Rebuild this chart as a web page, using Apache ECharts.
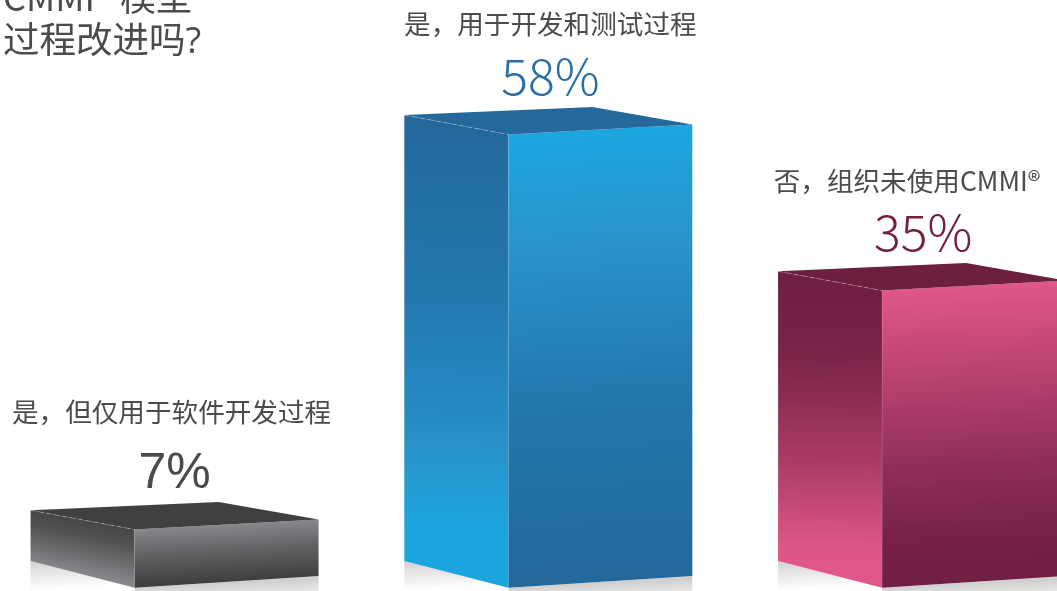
<!DOCTYPE html>
<html>
<head>
<meta charset="utf-8">
<style>html,body{margin:0;padding:0;background:#fff;overflow:hidden}#c{width:1057px;height:591px}</style>
<script src="https://cdn.jsdelivr.net/npm/echarts@6/dist/echarts.min.js"></script>
</head>
<body>
<div id="c"></div>
<script>
// ---- data ----
const categories = ['是，但仅用于软件开发过程', '是，用于开发和测试过程', '否，组织未使用CMMI®'];
const percentLabels = [7, 58, 35];
// The artwork is not to scale: the 58% column is drawn only as tall as about 53.4 on the common scale.
const drawnHeights = [6.85, 53.4, 35];
const titleLines = ['CMMI® 模型', '过程改进吗?'];

// ---- layout & styles ----
const CJK = '"Noto Sans CJK SC","Noto Sans",sans-serif';
const layout = {
  leftDx: -104, rightDx: 184, backDx: 84,
  topLeftDy: -19.3, topRightDy: -10, topBackDy: -27.5,
  baseLeftDy: -26.7, baseRightDy: -11.7
};
const labelPlace = [
  {nameDx: 37, nameDy: -118, pctDx: 40, pctDy: -55.5},
  {nameDx: 42, nameDy: -110.5, pctDx: 42, pctDy: -58},
  {nameDx: 25, nameDy: -110, pctDx: 41, pctDy: -59}
];
const titlePlace = [
  {top: -21, font: '400 36px "Noto Sans CJK SC",sans-serif'},
  {top: 24.5, font: '400 36.5px "Open Sans","Noto Sans CJK SC",sans-serif'}
];
const looks = [
  {top: '#3f403f', pct: '#4a4a4a', pctFont: '"Liberation Sans",sans-serif', pctWeight: 'normal', leftSlope: 0.2,
   left: [[0, '#3d3e3e'], [0.4, '#525253'], [1, '#8b8c90']],
   right: [[0, '#88888c'], [0.45, '#626265'], [1, '#3c3d3d']]},
  {top: '#25689c', pct: '#2a6ea3', pctFont: CJK, pctWeight: 300, leftSlope: 0.02,
   left: [[0, '#24689b'], [0.35, '#2277ac'], [0.65, '#268cc4'], [0.68, '#2a90c8'], [0.88, '#1ca6de'], [1, '#1ca6de']],
   right: [[0, '#1ca7e0'], [0.25, '#2a93cb'], [0.6, '#2277ac'], [1, '#24689b']]},
  {top: '#6c1f3f', pct: '#74203f', pctFont: CJK, pctWeight: 300, leftSlope: 0.02,
   left: [[0, '#6e1f42'], [0.25, '#7a2448'], [0.6, '#ab3c67'], [0.88, '#df578a'], [1, '#e0578a']],
   right: [[0, '#e0578a'], [0.3, '#b84270'], [0.6, '#8f2f59'], [0.85, '#762145'], [1, '#701f42']]}
];

function slantGrad(x, yTop, yBot, s, stops) {
  // gradient whose iso-lines follow the perspective slope s of the face
  const h = yBot - yTop, d = 1 + s * s;
  const sts = stops.map(p => ({offset: p[0], color: p[1]}));
  return new echarts.graphic.LinearGradient(x, yTop, x - s * h / d, yTop + h / d, sts, true);
}

function renderBar(params, api) {
  const i = params.dataIndex;
  const L = layout, look = looks[i], place = labelPlace[i];
  const base = api.coord([api.value(0), 0]);
  const top = api.coord([api.value(0), api.value(1)]);
  const x = base[0], by = base[1], ty = top[1];
  const xl = x + L.leftDx, xr = x + L.rightDx;
  const poly = (pts, fill, z2) => ({type: 'polygon', shape: {points: pts}, style: {fill}, z2: z2 || 1});
  const leftTopY = ty - 10;
  const children = [
    // floor reflection
    poly([[xl, by + L.baseLeftDy], [x, by], [x, by + 30], [xl, by + 30]],
      new echarts.graphic.LinearGradient(xl, by + L.baseLeftDy, xl + 2, by + L.baseLeftDy + 30,
        [{offset: 0, color: '#d2d2d2'}, {offset: 1, color: '#ffffff'}], true), 0),
    poly([[x, by], [xr, by + L.baseRightDy], [xr, by + 30], [x, by + 30]],
      new echarts.graphic.LinearGradient(x, by, x + 1, by + 22,
        [{offset: 0, color: '#d0d0d0'}, {offset: 1, color: '#ffffff'}], true), 0),
    // left side face
    poly([[xl, ty + L.topLeftDy], [x, ty], [x, by], [xl, by + L.baseLeftDy]],
      slantGrad(x, leftTopY, by, look.leftSlope, look.left)),
    // front face
    poly([[x, ty], [xr, ty + L.topRightDy], [xr, by + L.baseRightDy], [x, by]],
      slantGrad(x, ty, by, -0.055, look.right)),
    // top face
    poly([[xl, ty + L.topLeftDy], [x + L.backDx, ty + L.topBackDy], [xr, ty + L.topRightDy], [x, ty]], look.top, 2),
    // dashed highlight on the near-left top edge and the corner edge
    {type: 'line', shape: {x1: xl, y1: ty + L.topLeftDy, x2: x, y2: ty},
     style: {stroke: 'rgba(255,255,255,0.3)', lineWidth: 1, lineDash: [5, 3]}, z2: 3},
    {type: 'line', shape: {x1: x, y1: ty, x2: x, y2: by},
     style: {stroke: 'rgba(255,255,255,0.1)', lineWidth: 1}, z2: 3},
    // labels
    {type: 'text', x: x + place.nameDx, y: ty + place.nameDy, z2: 4,
     style: {text: categories[i], fill: '#4b4b4b', font: '400 26.6px ' + CJK, align: 'center', verticalAlign: 'middle'}},
    {type: 'text', x: x + place.pctDx, y: ty + place.pctDy, z2: 4,
     style: {text: api.value(2) + '%', fill: look.pct, font: look.pctWeight + ' 50px ' + look.pctFont, align: 'center', verticalAlign: 'middle'}}
  ];
  return {type: 'group', children};
}

const chart = echarts.init(document.getElementById('c'), null, {renderer: 'canvas'});
chart.setOption({
  animation: false,
  backgroundColor: '#ffffff',
  grid: {left: 0, top: 2, width: 1057, height: 585.7},
  xAxis: {type: 'value', min: -0.36, max: 2.468, show: false},
  yAxis: {type: 'value', min: 0, max: 69, show: false},
  graphic: titleLines.map((t, k) => ({
    type: 'text', left: 3, top: titlePlace[k].top, z: 10,
    style: {text: t, fill: '#4b4b4b', font: titlePlace[k].font}
  })),
  series: [{
    type: 'custom',
    clip: false,
    renderItem: renderBar,
    encode: {x: 0, y: 1},
    data: categories.map((c, i) => [i, drawnHeights[i], percentLabels[i]])
  }]
});
</script>
</body>
</html>
